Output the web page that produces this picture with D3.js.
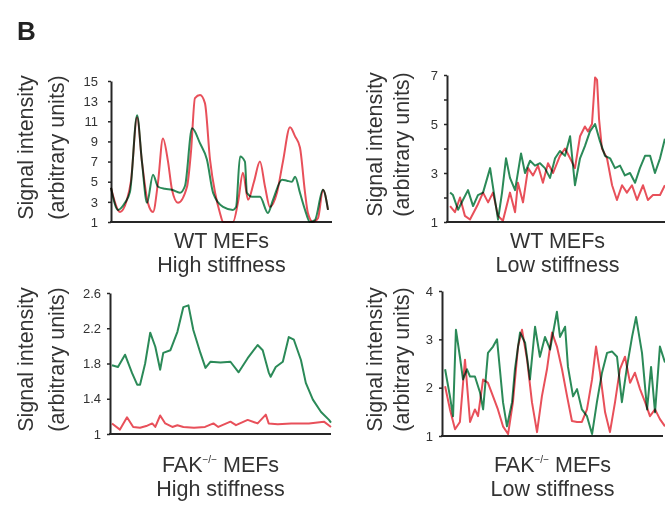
<!DOCTYPE html>
<html>
<head>
<meta charset="utf-8">
<script src="https://cdn.jsdelivr.net/npm/d3@7"></script>
<style>
  body { margin: 0; background: #fff; }
  svg { display: block; font-family: "Liberation Sans", Arial, sans-serif; }
</style>
</head>
<body>
<svg id="chart"></svg>
<script>
// line scans, position along the scan (0-100) vs signal intensity

/////////////// Data ///////////////
const wtHighRed = [[0,4.4],[4.1,2.0],[7.2,3.2],[9,5],[11.8,11.4],[14,7],[16.7,2.9],[19,2.0],[21.3,5],[23.5,9.3],
  [25.8,7],[27.6,4.2],[30.3,2.9],[34.4,4.5],[36.2,8],[38,13.3],[40.3,13.6],[42.5,12.8],[44.8,7.2],[47.1,3.9],
  [49.3,1.9],[50.7,1.0],[55.2,1.0],[57.5,3],[59.7,5.9],[62,3.2],[64.7,5],[67.4,7.0],[69.7,4.5],[71.9,2.5],
  [75.1,3.9],[77.8,7],[81,10.4],[83.3,9.5],[85.5,8.4],[87.8,3.9],[89.1,1.9],[91.4,1.0],[93.7,1.4],[95.9,4.2],[98.2,2.2]]
const wtHighGreen = [[0,4.4],[3.2,2.2],[6.3,2.9],[8.6,4],[11.8,11.6],[14,7],[16.3,2.9],[19,5.7],[21.3,4.5],[24.4,4.3],
  [27.6,4.2],[31.2,3.9],[33.5,4.6],[36.7,10.3],[40.3,8.8],[43.4,7.2],[46.2,3.9],[50.7,2.5],[55.2,2.2],[56.6,2.5],
  [58.4,7.5],[60.6,7.0],[61.5,3.9],[63.8,3.5],[67.4,3.5],[71,1.9],[73.3,3.2],[77.4,5.2],[79.6,5.1],[81.9,5.0],
  [83.3,5.5],[85.5,3.9],[87.8,2.2],[90,1.0],[92.3,1.2],[95.9,4.2],[98.2,2.2]]

const wtLowRed = [[1.4,1.65],[3.6,1.4],[5.9,2.0],[8.1,1.25],[10.4,1.1],[13.6,1.65],[16.3,2.2],[18.6,1.8],[20.8,2.2],
  [23.1,1.25],[25.3,1.05],[28.5,2.2],[30.8,1.4],[32.1,2.6],[34.4,1.8],[36.7,3.2],[38.9,2.9],[41.2,3.3],[43.4,2.6],
  [45.7,3.4],[48,3.0],[51.1,3.7],[53.4,4.0],[55.7,3.6],[57.9,3.2],[60.2,4.5],[62.4,4.9],[63.8,4.7],[65.6,5.0],
  [67,6.9],[67.9,6.8],[68.8,5.2],[70.1,4.0],[72.4,3.6],[74.7,2.5],[76.9,1.9],[79.2,2.5],[81.4,2.2],[83.7,2.5],
  [86,1.9],[88.7,2.5],[90.9,1.9],[93.2,2.1],[96.4,2.1],[98.6,2.5]]
const wtLowGreen = [[1.4,2.2],[2.7,2.1],[5,1.5],[7.2,1.9],[9.5,2.3],[11.8,1.65],[14,2.1],[16.3,2.2],[19.5,3.2],
  [21.7,1.9],[23.1,1.1],[24.9,2.2],[26.7,3.6],[28.5,2.8],[30.8,2.3],[33.5,3.8],[35.3,3.0],[37.6,3.5],[39.8,3.3],
  [42.1,3.4],[44.3,3.2],[46.6,2.8],[48.9,3.6],[51.1,3.9],[53.4,3.7],[55.7,4.5],[57.9,2.5],[60.2,3.6],[62.4,4.1],
  [64.7,4.7],[67,5.0],[69.2,4.3],[71.5,3.7],[73.8,3.6],[76,3.2],[78.3,3.3],[80.5,2.9],[82.8,3.0],[85.1,2.6],
  [87.3,3.2],[89.6,3.7],[91.9,3.7],[94.1,3.0],[96.4,3.6],[98.6,4.4]]

const fakHighRed = [[0.9,1.12],[4.5,1.05],[7.7,1.19],[10.5,1.08],[13.6,1.07],[16.4,1.09],[19.1,1.12],[20.5,1.08],
  [22.7,1.21],[25,1.12],[28.2,1.08],[30.5,1.10],[33.2,1.08],[38,1.07],[43,1.08],[46.8,1.12],[49,1.08],[54.5,1.14],
  [57,1.10],[62.3,1.16],[66.8,1.12],[70.5,1.22],[71.8,1.12],[75.9,1.11],[82,1.12],[90,1.12],[96.8,1.14],[100,1.08]]
const fakHighGreen = [[0.9,1.78],[3.6,1.76],[6.8,1.90],[10,1.69],[12.3,1.56],[13.6,1.56],[15.9,1.80],[18.2,2.15],
  [20.5,1.99],[22.7,1.73],[24.1,1.92],[27.3,1.95],[30.5,2.16],[33.2,2.44],[35.5,2.46],[37.7,2.18],[40.9,1.92],
  [43.2,1.75],[45.5,1.82],[50,1.81],[54.5,1.82],[58.2,1.70],[62.3,1.86],[66.8,2.01],[69.1,1.95],[71.8,1.70],
  [72.7,1.65],[75,1.76],[78.2,1.82],[80.9,2.10],[83.2,2.07],[86.4,1.84],[88.6,1.58],[91.8,1.39],[95.5,1.25],
  [99.1,1.16],[100,1.13]]

const fakLowRed = [[1.4,2.03],[3.6,1.55],[5.9,1.14],[8.1,1.29],[10.4,2.58],[12.7,1.29],[14.9,1.55],[16.3,1.41],
  [18.6,2.17],[20.8,2.1],[23.1,1.82],[25.3,1.55],[27.6,1.2],[29.9,1.04],[32.1,1.7],[34.4,2.85],[36.2,3.2],
  [38.5,2.58],[40.7,1.7],[43,1.08],[45.2,1.82],[47.5,2.38],[49.8,3.14],[52,2.85],[54.3,2.38],[56.6,1.82],
  [58.8,1.31],[61.1,1.29],[63.3,1.29],[65.6,1.55],[67.9,2.17],[69.7,2.85],[71.5,2.31],[73.8,1.49],[76,1.08],
  [78.3,1.7],[80.5,2.38],[82.8,2.64],[85.1,2.1],[87.3,2.31],[89.6,1.97],[91.9,1.7],[94.1,1.41],[96.4,1.55],
  [98.6,1.35],[100.9,1.2]]
const fakLowGreen = [[1.4,2.38],[3.6,1.82],[5,1.41],[6.3,3.2],[8.1,2.64],[9.5,2.17],[11.3,2.38],[12.7,2.23],
  [14.9,2.23],[17.2,1.9],[18.6,1.55],[20.8,2.72],[23.1,2.85],[24.9,3.0],[26.2,2.38],[27.6,1.7],[29.4,1.2],
  [31.7,1.7],[33,2.38],[35.3,3.14],[37.6,2.93],[39.8,2.17],[42.1,3.26],[44.3,2.64],[46.6,3.05],[48.9,2.79],
  [52,3.57],[53.4,3.05],[55.7,3.26],[57,2.43],[59.3,1.82],[61.1,1.97],[63.3,1.55],[65.6,1.41],[67.9,1.04],
  [70.1,1.7],[72.4,2.31],[74.7,2.72],[76.9,2.75],[79.2,2.64],[81.4,1.7],[83.7,2.43],[86,3.05],[87.8,3.46],
  [90.5,2.72],[92.8,1.55],[94.6,2.43],[96.4,1.49],[98.6,2.85],[100.9,2.52]]

const wtHighTicks = [1, 3, 5, 7, 9, 11, 13, 15]
const wtLowTicks = [1, 2, 3, 4, 5, 6, 7]
const wtLowLabels = [1, 3, 5, 7]
const fakHighTicks = [1, 1.4, 1.8, 2.2, 2.6]
const fakLowTicks = [1, 2, 3, 4]

/////////////// Constants ///////////////
const width = 665
const height = 506
const redColour = "#e8505a"
const greenColour = "#2b8a58"
const axisColour = "#262626"
const textColour = "#333"

const panels = [
  { x0: 111, x1: 332, yTop: 81, yBot: 222, dom: [1, 15], ticks: wtHighTicks, labels: wtHighTicks,
    red: wtHighRed, green: wtHighGreen, cell: "WT", cond: "High stiffness", labelX: 33, gap: 31,
    titleY: 248, pad: 10, smooth: true },
  { x0: 447, x1: 668, yTop: 75, yBot: 222, dom: [1, 7], ticks: wtLowTicks, labels: wtLowLabels,
    red: wtLowRed, green: wtLowGreen, cell: "WT", cond: "Low stiffness", labelX: 382, gap: 27,
    titleY: 248, pad: 6, smooth: false },
  { x0: 110, x1: 331, yTop: 293, yBot: 434, dom: [1, 2.6], ticks: fakHighTicks, labels: fakHighTicks,
    red: fakHighRed, green: fakHighGreen, cell: "FAK", cond: "High stiffness", labelX: 33, gap: 31,
    titleY: 472, pad: 6, smooth: false },
  { x0: 442, x1: 663, yTop: 291, yBot: 436, dom: [1, 4], ticks: fakLowTicks, labels: fakLowTicks,
    red: fakLowRed, green: fakLowGreen, cell: "FAK", cond: "Low stiffness", labelX: 382, gap: 27,
    titleY: 472, pad: 6, smooth: false }
]

const svg = d3.select("#chart")
  .attr("width", width)
  .attr("height", height)

svg.append("text")
  .attr("x", 17)
  .attr("y", 40)
  .attr("font-size", 26)
  .attr("font-weight", "bold")
  .attr("fill", "#222")
  .text("B")

panels.forEach(p => {
  const x = d3.scaleLinear().domain([0, 100]).range([p.x0, p.x1])
  const y = d3.scaleLinear().domain(p.dom).range([p.yBot, p.yTop])
  const g = svg.append("g")

  // y axis
  const yAxis = d3.axisLeft(y)
    .tickValues(p.ticks)
    .tickSize(3)
    .tickSizeOuter(0)
    .tickPadding(p.pad)
    .tickFormat(d => p.labels.includes(d) ? d3.format("~g")(d) : "")
  const ya = g.append("g")
    .attr("transform", `translate(${p.x0},0)`)
    .call(yAxis)
  ya.select(".domain").attr("stroke", axisColour).attr("stroke-width", 2)
  ya.selectAll(".tick line").attr("stroke", axisColour).attr("stroke-width", 1.5)
  ya.selectAll(".tick text")
    .attr("font-size", 13)
    .attr("font-family", "Liberation Sans, Arial, sans-serif")
    .attr("fill", textColour)

  // x axis line (no ticks)
  g.append("line")
    .attr("x1", p.x0 - 1).attr("x2", p.x1)
    .attr("y1", y(p.dom[0])).attr("y2", y(p.dom[0]))
    .attr("stroke", axisColour)
    .attr("stroke-width", 2.2)

  // line scans
  const line = d3.line()
    .x(d => x(d[0]))
    .y(d => y(d[1]))
    .curve(p.smooth ? d3.curveMonotoneX : d3.curveLinear)
  ;[[p.green, greenColour], [p.red, redColour]].forEach(([data, col]) => {
    g.append("path")
      .datum(data)
      .attr("d", line)
      .attr("fill", "none")
      .attr("stroke", col)
      .attr("stroke-width", 2)
      .attr("stroke-linejoin", "round")
      .style("mix-blend-mode", "multiply")
  })

  // y axis label
  const cy = (p.yTop + p.yBot) / 2 - 4
  ;["Signal intensity", "(arbitrary units)"].forEach((t, i) => {
    g.append("text")
      .attr("transform", `translate(${p.labelX + i * p.gap},${cy}) rotate(-90)`)
      .attr("text-anchor", "middle")
      .attr("font-size", 21.5)
      .attr("fill", textColour)
      .text(t)
  })

  // panel title
  const cx = (p.x0 + p.x1) / 2
  const t1 = g.append("text")
    .attr("x", cx)
    .attr("y", p.titleY)
    .attr("text-anchor", "middle")
    .attr("font-size", 21.5)
    .attr("fill", textColour)
  if (p.cell === "FAK") {
    t1.append("tspan").text("FAK")
    t1.append("tspan").attr("font-size", 10).attr("dy", -9).text("\u2212/\u2212")
    t1.append("tspan").attr("dy", 9).text(" MEFs")
  } else {
    t1.text("WT MEFs")
  }
  g.append("text")
    .attr("x", cx)
    .attr("y", p.titleY + 24)
    .attr("text-anchor", "middle")
    .attr("font-size", 21.5)
    .attr("fill", textColour)
    .text(p.cond)
})
</script>
</body>
</html>
